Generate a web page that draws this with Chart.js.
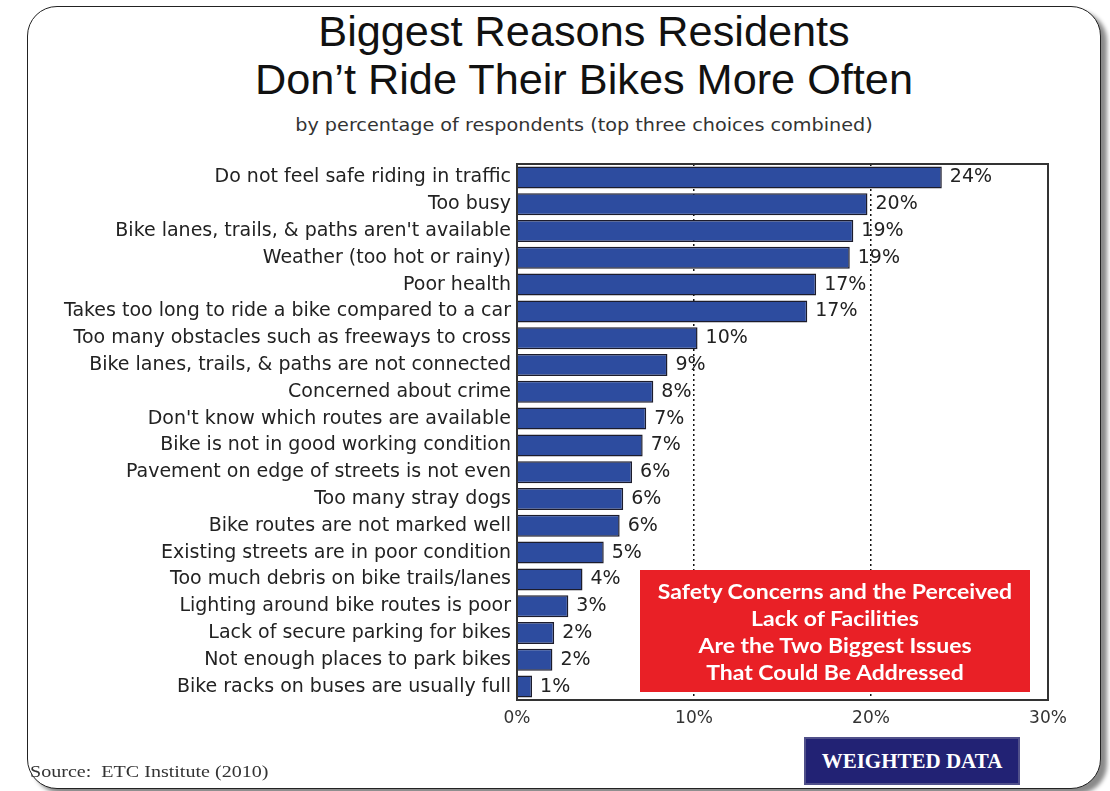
<!DOCTYPE html>
<html>
<head>
<meta charset="utf-8">
<script src="https://cdn.jsdelivr.net/npm/chart.js@4/dist/chart.umd.min.js"></script>
<style>
  html, body { margin: 0; padding: 0; background: #fff; }
  #wrap { position: relative; width: 1110px; height: 791px; overflow: hidden; }
  #card {
    position: absolute; left: 27px; top: 6px; width: 1072px; height: 781px;
    border: 1.5px solid #222; border-radius: 30px; background: #fff;
    box-shadow: 6px 5px 4px #8a8a8a;
  }
  #chart { position: absolute; left: 0; top: 0; }
  .title {
    position: absolute; left: 184px; width: 800px; text-align: center; white-space: nowrap;
    font-family: "Liberation Sans", Arial, sans-serif; font-size: 42px; color: #111;
    transform: scaleX(1.03);
  }
  #sub {
    position: absolute; left: 184px; width: 800px; top: 115px; text-align: center; white-space: nowrap;
    font-family: "DejaVu Sans", sans-serif; font-size: 17px; color: #333;
    transform: scaleX(1.13);
  }
  #callout {
    position: absolute; left: 640px; top: 570px; width: 390px; height: 122px; background: #e92026;
    color: #fff; font-family: Lato, sans-serif; font-weight: 700; font-size: 20px;
    text-align: center; line-height: 27px; box-sizing: border-box; padding-top: 8px;
  }
  #callout div { transform: scaleX(1.15); white-space: nowrap; }
  #weighted {
    position: absolute; left: 804px; top: 737px; width: 216px; height: 48px; box-sizing: border-box;
    background: #222274; border: 2px solid #50508a; color: #fff;
    font-family: "Liberation Serif", serif; font-weight: 700; font-size: 21px;
    text-align: center; line-height: 44px;
  }
  #source {
    position: absolute; left: 30px; top: 762px; font-family: "Liberation Serif", serif;
    font-size: 17px; color: #333; white-space: nowrap;
    transform: scaleX(1.18); transform-origin: left center;
  }
</style>
</head>
<body>
<div id="wrap">
  <div id="card"></div>
  <div class="title" style="top:8px;">Biggest Reasons Residents</div>
  <div class="title" style="top:56px;">Don’t Ride Their Bikes More Often</div>
  <div id="sub">by percentage of respondents (top three choices combined)</div>
  <canvas id="chart" width="1110" height="791"></canvas>
  <div id="callout">
    <div>Safety Concerns and the Perceived</div>
    <div>Lack of Facilities</div>
    <div>Are the Two Biggest Issues</div>
    <div>That Could Be Addressed</div>
  </div>
  <div id="weighted">WEIGHTED DATA</div>
  <div id="source">Source:&nbsp; ETC Institute (2010)</div>
</div>
<script>
const reasons = [
  'Do not feel safe riding in traffic',
  'Too busy',
  "Bike lanes, trails, & paths aren't available",
  'Weather (too hot or rainy)',
  'Poor health',
  'Takes too long to ride a bike compared to a car',
  'Too many obstacles such as freeways to cross',
  'Bike lanes, trails, & paths are not connected',
  'Concerned about crime',
  "Don't know which routes are available",
  'Bike is not in good working condition',
  'Pavement on edge of streets is not even',
  'Too many stray dogs',
  'Bike routes are not marked well',
  'Existing streets are in poor condition',
  'Too much debris on bike trails/lanes',
  'Lighting around bike routes is poor',
  'Lack of secure parking for bikes',
  'Not enough places to park bikes',
  'Bike racks on buses are usually full'
];
const percents = [24.0, 19.8, 19.0, 18.8, 16.9, 16.4, 10.2, 8.5, 7.7, 7.3, 7.1, 6.5, 6.0, 5.8, 4.9, 3.7, 2.9, 2.1, 2.0, 0.85];
const percentLabels = ['24%', '20%', '19%', '19%', '17%', '17%', '10%', '9%', '8%', '7%', '7%', '6%', '6%', '6%', '5%', '4%', '3%', '2%', '2%', '1%'];
const xTicks = [0, 10, 20, 30];

// value labels to the right of each bar + box around the plot
const barLabels = {
  id: 'barLabels',
  afterDatasetsDraw(chart) {
    const ctx = chart.ctx;
    const meta = chart.getDatasetMeta(0);
    ctx.save();
    ctx.font = '19px "DejaVu Sans", sans-serif';
    ctx.fillStyle = '#222';
    ctx.textBaseline = 'middle';
    meta.data.forEach((bar, i) => {
      ctx.fillText(percentLabels[i], bar.x + 8, bar.y);
    });
    ctx.restore();
  },
  afterDraw(chart) {
    const a = chart.chartArea;
    const ctx = chart.ctx;
    ctx.save();
    ctx.strokeStyle = '#333';
    ctx.lineWidth = 2;
    ctx.strokeRect(a.left, a.top, a.right - a.left, a.bottom - a.top);
    ctx.restore();
  }
};

new Chart(document.getElementById('chart'), {
  type: 'bar',
  data: {
    labels: reasons,
    datasets: [{
      data: percents,
      backgroundColor: '#2d4c9f',
      borderColor: '#1c1c2c',
      borderWidth: 1.5,
      barPercentage: 0.82,
      categoryPercentage: 1
    }]
  },
  options: {
    indexAxis: 'y',
    responsive: false,
    animation: false,
    layout: { padding: { top: 164, right: 62, bottom: 0, left: 0 } },
    plugins: { legend: { display: false }, tooltip: { enabled: false } },
    scales: {
      x: {
        min: 0, max: 30,
        afterFit: (s) => { s.height = 91; },
        afterBuildTicks: (s) => { s.ticks = xTicks.map(v => ({ value: v })); },
        ticks: {
          callback: (v) => v + '%',
          color: '#333',
          padding: 8,
          font: { family: '"DejaVu Sans", sans-serif', size: 17 }
        },
        grid: {
          drawTicks: false,
          color: (c) => (c.tick && (c.tick.value === 10 || c.tick.value === 20)) ? '#111' : 'rgba(0,0,0,0)',
          lineWidth: 1.5
        },
        border: { display: true, color: '#333', width: 2, dash: [2, 3] }
      },
      y: {
        afterFit: (s) => { s.width = 517; },
        ticks: {
          color: '#222',
          padding: 6,
          autoSkip: false,
          font: { family: '"DejaVu Sans", sans-serif', size: 19 }
        },
        grid: { display: false, drawTicks: false },
        border: { display: true, color: '#333', width: 2 }
      }
    }
  },
  plugins: [barLabels]
});
</script>
</body>
</html>
